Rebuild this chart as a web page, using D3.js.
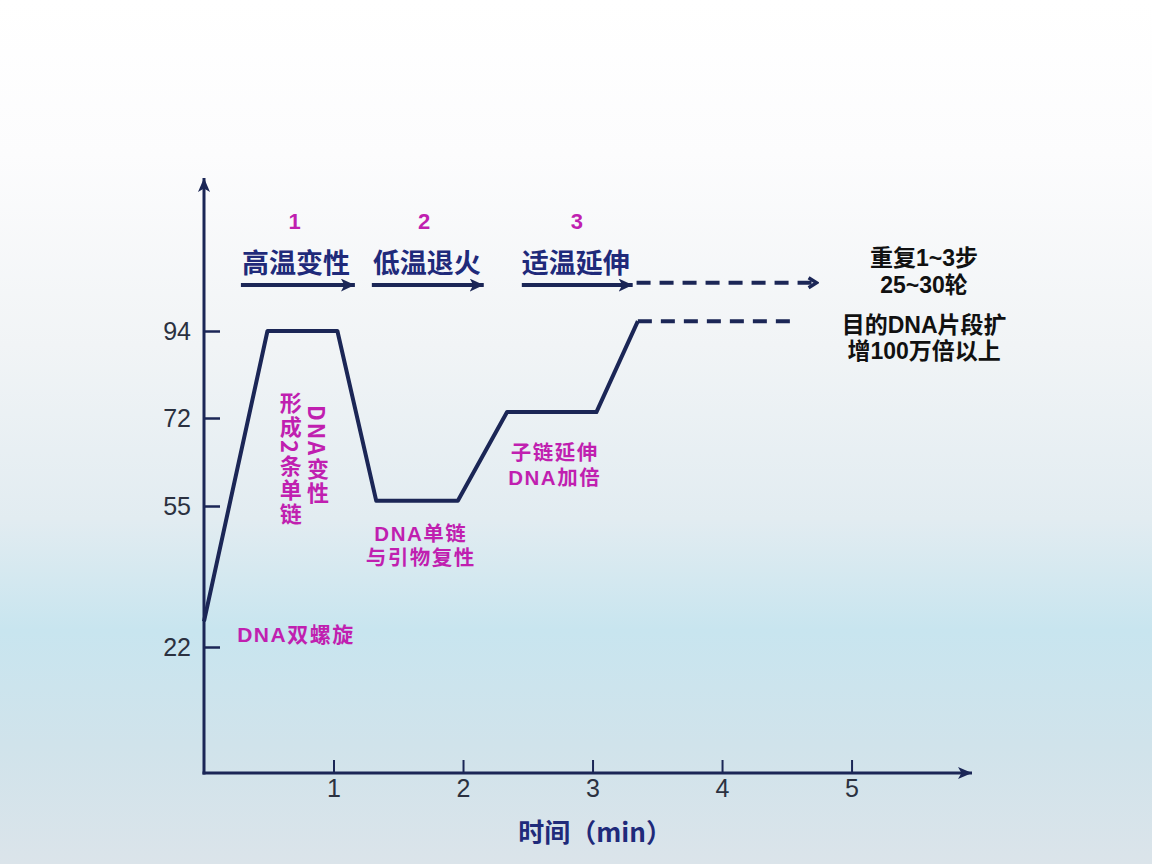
<!DOCTYPE html>
<html><head><meta charset="utf-8">
<script src="https://cdn.jsdelivr.net/npm/d3@7"></script>
<style>body{margin:0;background:#fff} svg{display:block}</style>
</head><body>
<svg id="chart" width="1152" height="864"></svg>
<script>
// ---------- data ----------
const xTicks = [1, 2, 3, 4, 5];
const yTicks = [22, 55, 72, 94];
const timePoints = [0, 0.49, 1.03, 1.33, 1.96, 2.34, 3.03, 3.35];
const tempPoints = [28, 94, 94, 56, 56, 73.5, 73.5, 96.5];
const dashTime = [3.35, 4.58];
const dashTemp = [96.5, 96.5];
const stepNums = ["1", "2", "3"];
const stepNames = ["高温变性", "低温退火", "适温延伸"];
const stepArrowStart = [0.285, 1.296, 2.454];
const stepArrowEnd = [1.165, 2.16, 3.31];
const repeatArrow = [3.34, 4.73];
const repeatText = ["重复1~3步", "25~30轮"];
const resultText = ["目的DNA片段扩", "增100万倍以上"];
const xLabel = "时间（min）";

// ---------- layout ----------
const W = 1152, H = 864;
const navy = "#1b2656", titleBlue = "#1f2a7a", magenta = "#c01fb0";
const svg = d3.select("#chart");

const x = d3.scaleLinear().domain([0, 5.93]).range([204, 972]);
// schematic (non-linear) temperature axis
const y = d3.scaleLinear().domain([0, 22, 55, 72, 94, 133]).range([773, 647, 506, 418, 331, 178]);

// background
const defs = svg.append("defs");
const g = defs.append("linearGradient").attr("id", "bg").attr("x1", 0).attr("y1", 0).attr("x2", 0).attr("y2", 1);
[[0, "#ffffff"], [0.18, "#fcfcfd"], [0.4, "#f1f4f6"], [0.6, "#e2ecf1"], [0.73, "#c8e5ef"], [0.86, "#d0e3eb"], [1, "#dbe4ea"]]
  .forEach(([o, c]) => g.append("stop").attr("offset", o).attr("stop-color", c));
svg.append("rect").attr("width", W).attr("height", H).attr("fill", "url(#bg)");

function arrowMarker(id, color, len, wid) {
  defs.append("marker").attr("id", id).attr("markerUnits", "userSpaceOnUse")
    .attr("viewBox", `0 ${-wid/2} ${len} ${wid}`).attr("refX", len).attr("refY", 0)
    .attr("markerWidth", len).attr("markerHeight", wid).attr("orient", "auto")
    .append("path").attr("d", `M0,${-wid/2}L${len},0L0,${wid/2}L${len*0.25},0Z`).attr("fill", color);
}
arrowMarker("axArrow", navy, 14, 12);
arrowMarker("stArrow", navy, 14, 13);
defs.append("marker").attr("id", "openArrow").attr("markerUnits", "userSpaceOnUse")
  .attr("viewBox", "0 -7 12 14").attr("refX", 10).attr("refY", 0)
  .attr("markerWidth", 12).attr("markerHeight", 14).attr("orient", "auto")
  .append("path").attr("d", "M2,-5L10,0L2,5").attr("fill", "none").attr("stroke", navy).attr("stroke-width", 3.5);

const tickFont = "'Liberation Sans Narrow','Liberation Sans',Arial,sans-serif";
const cjkBold = "'Noto Sans CJK SC','Noto Sans',sans-serif";
const mixedBold = "'Liberation Sans','Noto Sans CJK SC',sans-serif";

// y axis
const yAxis = svg.append("g").attr("transform", `translate(${x(0)},0)`)
  .call(d3.axisLeft(y).tickValues(yTicks).tickSizeInner(-16).tickSizeOuter(0).tickPadding(13));
yAxis.select(".domain").remove();
yAxis.selectAll(".tick line").attr("stroke", navy).attr("stroke-width", 2.5);
yAxis.selectAll(".tick text").attr("font-family", tickFont).attr("font-size", 25).attr("fill", "#2b3140");
svg.append("line").attr("x1", x(0)).attr("x2", x(0)).attr("y1", y(0) + 1.5).attr("y2", y(133))
  .attr("stroke", navy).attr("stroke-width", 3).attr("marker-end", "url(#axArrow)");

// x axis
const xAxis = svg.append("g").attr("transform", `translate(0,${y(0)})`)
  .call(d3.axisBottom(x).tickValues(xTicks).tickFormat(d3.format("d")).tickSizeInner(-13).tickSizeOuter(0).tickPadding(6));
xAxis.select(".domain").remove();
xAxis.selectAll(".tick line").attr("stroke", navy).attr("stroke-width", 2);
xAxis.selectAll(".tick text").attr("font-family", tickFont).attr("font-size", 25).attr("fill", "#2b3140");
svg.append("line").attr("x1", x(0) - 1.5).attr("x2", x(5.93)).attr("y1", y(0)).attr("y2", y(0))
  .attr("stroke", navy).attr("stroke-width", 3).attr("marker-end", "url(#axArrow)");

svg.append("text").attr("x", x(3.02)).attr("y", 830).attr("text-anchor", "middle").attr("dominant-baseline", "central")
  .attr("font-family", cjkBold).attr("font-weight", 700).attr("font-size", 26).attr("fill", titleBlue).text(xLabel);

// temperature profile
const pts = timePoints.map((t, i) => [t, tempPoints[i]]);
const line = d3.line().x(d => x(d[0])).y(d => y(d[1]));
svg.append("path").attr("d", line(pts)).attr("fill", "none").attr("stroke", navy)
  .attr("stroke-width", 4).attr("stroke-linejoin", "round");
svg.append("path").attr("d", line(dashTime.map((t, i) => [t, dashTemp[i]]))).attr("fill", "none")
  .attr("stroke", navy).attr("stroke-width", 4).attr("stroke-dasharray", "14,9");

// step labels and arrows
const numY = 121.8, nameY = 111.6, arrY = 105.7;
const numX = [0.70, 1.70, 2.88], nameX = [0.71, 1.72, 2.87];
stepNums.forEach((s, i) => {
  svg.append("text").attr("x", x(numX[i])).attr("y", y(numY)).attr("text-anchor", "middle").attr("dominant-baseline", "central")
    .attr("font-family", "'Liberation Sans',Arial,sans-serif").attr("font-weight", 700).attr("font-size", 22).attr("fill", magenta).text(s);
  svg.append("text").attr("x", x(nameX[i])).attr("y", y(nameY)).attr("text-anchor", "middle").attr("dominant-baseline", "central")
    .attr("font-family", cjkBold).attr("font-weight", 700).attr("font-size", 27).attr("fill", titleBlue).text(stepNames[i]);
  svg.append("line").attr("x1", x(stepArrowStart[i])).attr("x2", x(stepArrowEnd[i])).attr("y1", y(arrY)).attr("y2", y(arrY))
    .attr("stroke", navy).attr("stroke-width", 4).attr("marker-end", "url(#stArrow)");
});
svg.append("line").attr("x1", x(repeatArrow[0])).attr("x2", x(repeatArrow[1])).attr("y1", y(106.3)).attr("y2", y(106.3))
  .attr("stroke", navy).attr("stroke-width", 4).attr("stroke-dasharray", "14,9").attr("marker-end", "url(#openArrow)");

// multi-line text helper: one <text> element, one <tspan> per line
function multiText(lines, cx, cy, lineH, font, size, color, spacing) {
  const t = svg.append("text").attr("text-anchor", "middle").attr("dominant-baseline", "central")
    .attr("font-family", font).attr("font-weight", 700).attr("font-size", size)
    .attr("letter-spacing", spacing || 0).attr("fill", color);
  lines.forEach((s, i) => t.append("tspan").attr("x", cx).attr("y", cy + i * lineH)
    .attr("dominant-baseline", "central").text(s));
}

// right side notes
const noteX = x(5.56);
multiText(repeatText, noteX, y(112.6), 27, mixedBold, 23, "#111");
multiText(resultText, noteX, y(95.5), 26, mixedBold, 23, "#111");

// magenta annotations
multiText(["DNA双螺旋"], x(0.71), y(25.0), 0, mixedBold, 21, magenta, 1.5);
multiText(["DNA单链", "与引物复性"], x(1.674), y(48.6), 24, mixedBold, 20.5, magenta, 1.5);
multiText(["子链延伸", "DNA加倍"], x(2.708), y(65.4), 24.5, mixedBold, 20.5, magenta, 1.5);

const vNotes = [["形成2条单链", 0.67, 78.6], ["DNA变性", 0.88, 75.3]];
vNotes.forEach(([t, tx, tv]) => {
  svg.append("text").attr("x", x(tx)).attr("y", y(tv)).attr("text-anchor", "start")
    .style("writing-mode", "vertical-rl").style("text-orientation", "mixed")
    .attr("font-family", cjkBold).attr("font-weight", 700).attr("font-size", 22).attr("letter-spacing", 2)
    .attr("fill", magenta).text(t);
});
</script>
</body></html>
